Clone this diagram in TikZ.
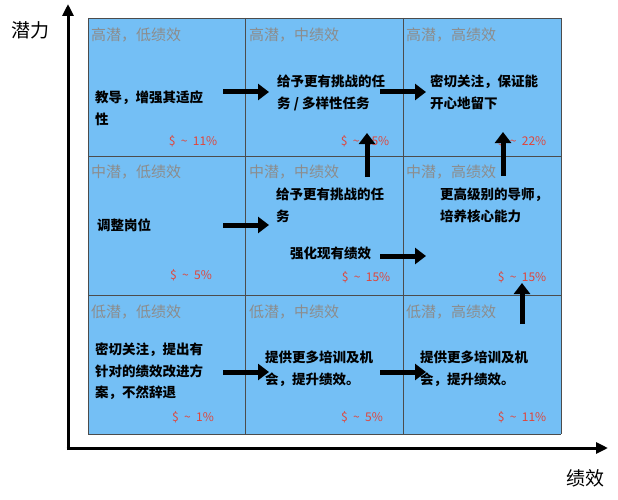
\documentclass[tikz,border=0pt]{standalone}
\usepackage{fontspec}
\setmainfont{Noto Sans CJK SC}
\usetikzlibrary{arrows.meta}
\definecolor{cellblue}{HTML}{74BFF5}
\definecolor{hdrgray}{HTML}{8C8C8C}
\definecolor{pctred}{HTML}{E0453A}
\tikzset{
  hdr/.style={anchor=west,text=hdrgray,font=\fontsize{15}{17}\selectfont,inner sep=0},
  body/.style={anchor=north west,align=left,font=\bfseries\fontsize{13.5}{21.5}\selectfont,inner sep=0},
  pct/.style={text=pctred,font=\fontsize{12}{14}\selectfont,inner sep=0},
  big/.style={line width=5pt,-{Triangle[length=11pt,width=16pt]}},
  axis/.style={line width=3pt,-{Triangle[length=12pt,width=11pt]}},
}
\begin{document}
\begin{tikzpicture}[x=1pt,y=-1pt]
\useasboundingbox (0,0) rectangle (618,500);
\fill[cellblue] (88,18) rectangle (561,434);
\foreach \x in {88,245.67,403.33,561}{\draw[black!70,line width=0.6pt] (\x,18)--(\x,434);}
\foreach \y in {18,156.67,295.33,434}{\draw[black!70,line width=0.6pt] (88,\y)--(561,\y);}
% axes
\coordinate (ytop) at (68,4);
\coordinate (xend) at (608,448);
\draw[axis] (68,450) -- (ytop);
\draw[axis] (66.5,448) -- (xend);
\node[font=\fontsize{19}{21}\selectfont] (yl) at (30,30) {潜力};
\node[font=\fontsize{19}{21}\selectfont] (xl) at (585,478) {绩效};
% headers
\node[hdr] (h1) at (91,35) {高潜，低绩效};
\node[hdr] (h2) at (249,35) {高潜，中绩效};
\node[hdr] (h3) at (406,35) {高潜，高绩效};
\node[hdr] (h4) at (91,172) {中潜，低绩效};
\node[hdr] (h5) at (249,172) {中潜，中绩效};
\node[hdr] (h6) at (406,172) {中潜，高绩效};
\node[hdr] (h7) at (91,312) {低潜，低绩效};
\node[hdr] (h8) at (249,312) {低潜，中绩效};
\node[hdr] (h9) at (406,312) {低潜，高绩效};
% bodies
\node[body] (b1) at (95,91) {教导，增强其适应\\性};
\node[body] (b2) at (277,75) {给予更有挑战的任\\务 / 多样性任务};
\node[body] (b3) at (430,75) {密切关注，保证能\\开心地留下};
\node[body] (b4) at (97,218) {调整岗位};
\node[body] (b5) at (276,188) {给予更有挑战的任\\务};
\node[body] (b5b) at (290,247) {强化现有绩效};
\node[body] (b6) at (440,188) {更高级别的导师，\\培养核心能力};
\node[body] (b7) at (95,343) {密切关注，提出有\\针对的绩效改进方\\案，不然辞退};
\node[body] (b8) at (265,351) {提供更多培训及机\\会，提升绩效。};
\node[body] (b9) at (420,351) {提供更多培训及机\\会，提升绩效。};
% percentages
\node[pct] (p1) at (193,141) {\$ \ \textasciitilde\ \ 11\%};
\node[pct] (p2) at (365,141) {\$ \ \textasciitilde\ \ 15\%};
\node[pct] (p3) at (522,141) {\$ \ \textasciitilde\ \ 22\%};
\node[pct] (p4) at (191,275) {\$ \ \textasciitilde\ \ 5\%};
\node[pct] (p5) at (366,277) {\$ \ \textasciitilde\ \ 15\%};
\node[pct] (p6) at (522,277) {\$ \ \textasciitilde\ \ 15\%};
\node[pct] (p7) at (193,417) {\$ \ \textasciitilde\ \ 1\%};
\node[pct] (p8) at (362,417) {\$ \ \textasciitilde\ \ 5\%};
\node[pct] (p9) at (522,417) {\$ \ \textasciitilde\ \ 11\%};
% arrows
\coordinate (a1s) at (223,92); \coordinate (a1e) at (269,92);
\coordinate (a2s) at (380,92); \coordinate (a2e) at (426,92);
\coordinate (a3s) at (367,177); \coordinate (a3e) at (367,133);
\coordinate (a4s) at (503,176); \coordinate (a4e) at (503,132);
\coordinate (a5s) at (223,225); \coordinate (a5e) at (269,225);
\coordinate (a6s) at (380,256); \coordinate (a6e) at (426,256);
\coordinate (a7s) at (522,324); \coordinate (a7e) at (522,283);
\coordinate (a8s) at (223,372); \coordinate (a8e) at (269,372);
\coordinate (a9s) at (380,372); \coordinate (a9e) at (426,372);
\foreach \i in {1,...,9}{\draw[big] (a\i s) -- (a\i e);}
\end{tikzpicture}
\end{document}
